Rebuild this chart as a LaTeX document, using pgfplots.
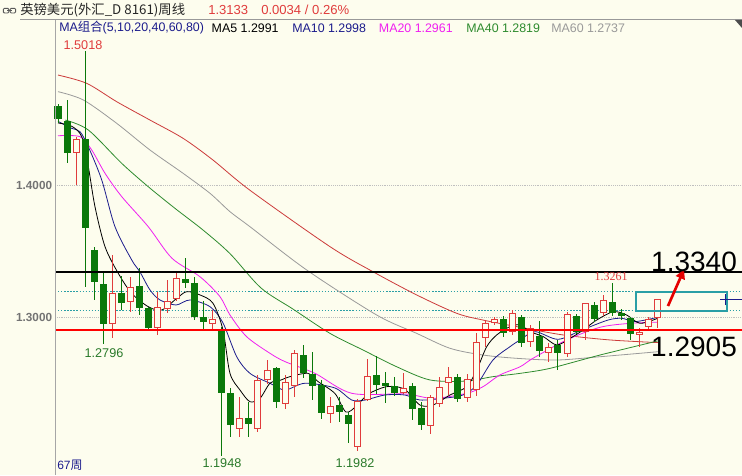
\documentclass[border=0pt]{standalone}
\usepackage{pgfplots}
\pgfplotsset{compat=1.18}
\usepackage{pgfplotstable}
\usepackage{fontspec}
\setmainfont{Liberation Sans}
\newfontfamily\cjk{Noto Sans CJK SC}
\newfontfamily\serifnum{Liberation Serif}
\usetikzlibrary{arrows.meta}

\definecolor{bg}{HTML}{FDFDEE}
\definecolor{cred}{HTML}{E03C3C}
\definecolor{cgreen}{HTML}{0A780A}
\definecolor{mablue}{HTML}{1C1C8C}
\definecolor{mamag}{HTML}{F020F0}
\definecolor{magreen}{HTML}{2E8B2E}
\definecolor{magrey}{HTML}{9A9A9A}
\definecolor{mared}{HTML}{CC3A3A}
\definecolor{teal2}{HTML}{2A9FA6}
\definecolor{lblgreen}{HTML}{2A7A2A}

% up (red, hollow) weekly candles: index open high low close
\pgfplotstableread{
i o h l c
2 1.4245 1.4366 1.4000 1.4346
6 1.2947 1.3470 1.2838 1.3184
8 1.3111 1.3300 1.3040 1.3225
11 1.2917 1.3192 1.2864 1.3076
12 1.3058 1.3280 1.3030 1.3123
13 1.3134 1.3343 1.3120 1.3293
17 1.2947 1.3053 1.2909 1.2982
20 1.2149 1.2396 1.2093 1.2232
22 1.2149 1.2561 1.2130 1.2523
23 1.2523 1.2674 1.2490 1.2598
25 1.2341 1.2560 1.2300 1.2510
26 1.2477 1.2750 1.2392 1.2730
30 1.2265 1.2392 1.2199 1.2326
33 1.2018 1.2380 1.1982 1.2361
34 1.2371 1.2679 1.2360 1.2553
38 1.2427 1.2578 1.2415 1.2460
41 1.2174 1.2409 1.2114 1.2396
42 1.2341 1.2548 1.2320 1.2472
43 1.2498 1.2619 1.2409 1.2548
45 1.2384 1.2568 1.2359 1.2527
46 1.2447 1.2876 1.2400 1.2813
47 1.2838 1.2977 1.2775 1.2952
48 1.2957 1.3000 1.2940 1.2982
50 1.2889 1.3053 1.2860 1.3033
52 1.2813 1.2937 1.2775 1.2914
54 1.2725 1.2806 1.2662 1.2770
56 1.2720 1.3038 1.2695 1.3023
58 1.2889 1.3109 1.2826 1.3104
60 1.3028 1.3167 1.3010 1.3129
64 1.2864 1.2914 1.2775 1.2889
65 1.2927 1.3000 1.2900 1.2985
66 1.2990 1.3140 1.2920 1.3133
}\upc

% down (green, filled) weekly candles
\pgfplotstableread{
i o h l c
0 1.4598 1.4610 1.4470 1.4498
1 1.4487 1.4644 1.4164 1.4245
3 1.4346 1.5018 1.3230 1.3672
4 1.3508 1.3528 1.3129 1.3267
5 1.3248 1.3331 1.2796 1.2947
7 1.3179 1.3310 1.3053 1.3104
9 1.3235 1.3369 1.3015 1.3066
10 1.3066 1.3075 1.2905 1.2914
14 1.3286 1.3445 1.3220 1.3255
15 1.3260 1.3305 1.2980 1.2998
16 1.2998 1.3123 1.2909 1.2965
18 1.2909 1.2925 1.1948 1.2427
19 1.2427 1.2459 1.2093 1.2182
21 1.2232 1.2358 1.2093 1.2189
24 1.2611 1.2625 1.2308 1.2353
27 1.2712 1.2788 1.2540 1.2578
28 1.2568 1.2737 1.2371 1.2477
29 1.2485 1.2523 1.2225 1.2275
31 1.2333 1.2396 1.2206 1.2280
32 1.2258 1.2283 1.2048 1.2189
35 1.2561 1.2705 1.2417 1.2485
36 1.2498 1.2586 1.2346 1.2477
37 1.2477 1.2543 1.2400 1.2427
39 1.2477 1.2498 1.2220 1.2301
40 1.2311 1.2353 1.2144 1.2182
44 1.2543 1.2568 1.2359 1.2376
49 1.2982 1.3008 1.2846 1.2881
51 1.3003 1.3015 1.2770 1.2806
53 1.2856 1.2972 1.2700 1.2745
55 1.2788 1.2826 1.2598 1.2725
57 1.3008 1.3020 1.2870 1.2889
59 1.3091 1.3116 1.2960 1.2982
61 1.3116 1.3261 1.3010 1.3033
62 1.3033 1.3061 1.2977 1.3008
63 1.2990 1.3003 1.2826 1.2871
}\downc

\pgfplotsset{
  bar/.style={draw=none, mark=none, forget plot,
    error bars/.cd, y dir=both, y explicit, error mark=none},
}

\begin{document}
\begin{tikzpicture}
\fill[bg] (0,0) rectangle (556.5pt,356.25pt);
\useasboundingbox (0,0) rectangle (556.5pt,356.25pt);
\begin{axis}[
  at={(41.25pt,0pt)}, anchor=south west,
  width=515.25pt, height=342pt, scale only axis,
  xmin=-0.33, xmax=75.247, ymin=1.1803, ymax=1.525758,
  axis line style={draw=none},
  xtick=\empty,
  ytick={1.3,1.4}, yticklabels={1.3000,1.4000},
  tick style={draw=none},
  yticklabel style={anchor=east, inner sep=0pt, xshift=-2pt,
    text=black!55, font=\fontsize{8.8}{10}\selectfont\bfseries},
  /pgf/number format/assume math mode=true,
  ymajorgrids, grid style={densely dotted, black!25, line width=0.5pt},
  clip=false,
]
% horizontal levels
\addplot[teal2, line width=0.9pt, dash pattern=on 1pt off 1.3pt] coordinates {(-0.33,1.3195) (75.247,1.3195)};
\addplot[teal2, line width=0.9pt, dash pattern=on 1pt off 1.3pt] coordinates {(-0.33,1.3050) (75.247,1.3050)};

% moving averages
\addplot[mared, line width=0.6pt, smooth] coordinates {(0,1.4833) (3.16,1.4770) (6.46,1.4631) (10.12,1.4492) (13.75,1.4354) (17.05,1.4189) (21.12,1.3960) (29.92,1.3533) (34.65,1.3343) (39.46,1.3167) (43.86,1.3028) (46.75,1.2977) (50.46,1.2927) (55.56,1.2864) (60.73,1.2826) (66,1.2806)};
\addplot[magrey, line width=0.6pt, smooth] coordinates {(0,1.4707) (2.79,1.4644) (6.46,1.4467) (10.12,1.4265) (13.75,1.4089) (16.72,1.3937) (18.92,1.3798) (21.12,1.3684) (27.36,1.3356) (35.06,1.3015) (39.46,1.2876) (43.12,1.2763) (46.75,1.2712) (50.46,1.2687) (54.86,1.2674) (59.62,1.2699) (66,1.2737)};
\addplot[magreen, line width=0.6pt, smooth] coordinates {(0.8,1.4492) (3.33,1.4417) (7.01,1.4164) (9.93,1.3987) (12.87,1.3823) (15.95,1.3659) (18.92,1.3480) (22.33,1.3220) (25.85,1.3060) (29.92,1.2876) (33.55,1.2750) (37.26,1.2623) (40.92,1.2523) (44.88,1.2515) (47.85,1.2548) (50.83,1.2573) (54.13,1.2611) (59.63,1.2712) (66,1.2819)};
\addplot[mamag, line width=0.6pt, smooth] coordinates {(0,1.4373) (2.42,1.4366) (3.71,1.4265) (5.17,1.4089) (7.01,1.3912) (9.93,1.3684) (12.54,1.3445) (15.62,1.3305) (17.82,1.3154) (18.92,1.3015) (20.75,1.2851) (23.32,1.2725) (24.97,1.2662) (28.27,1.2573) (32.31,1.2422) (38.17,1.2417) (41.25,1.2384) (44.96,1.2422) (46.75,1.2472) (48.62,1.2561) (50.83,1.2623) (52.25,1.2687) (55.96,1.2826) (59.63,1.2922) (62.93,1.2952) (66,1.2961)};
\addplot[mablue, line width=0.6pt, smooth] coordinates {(0,1.4482) (1.51,1.4429) (2.42,1.4404) (3.33,1.4290) (4.81,1.4038) (6.27,1.3684) (8.11,1.3432) (9.02,1.3341) (10.12,1.3205) (11.22,1.3129) (12.98,1.3091) (14.52,1.3129) (16.72,1.3078) (18.15,1.2955) (19.66,1.2699) (21.12,1.2573) (23.32,1.2498) (24.97,1.2447) (27.17,1.2498) (30.47,1.2462) (32.31,1.2371) (33.77,1.2371) (35.97,1.2409) (38.17,1.2409) (39.82,1.2371) (42.35,1.2384) (44.55,1.2409) (46.06,1.2485) (47.85,1.2674) (49.72,1.2775) (50.83,1.2826) (52.48,1.2889) (55.01,1.2831) (57.65,1.2902) (60.51,1.2977) (62.05,1.2990) (63.48,1.2965) (66,1.2998)};
\addplot[black, line width=0.6pt, smooth] coordinates {(0,1.4470) (1.51,1.4445) (2.61,1.4366) (3.33,1.4141) (4.07,1.3835) (5.17,1.3533) (6.63,1.3331) (8.11,1.3179) (9.93,1.3078) (11.41,1.3053) (13.06,1.3141) (14.16,1.3192) (15.62,1.3167) (17.05,1.3104) (18.15,1.2902) (18.92,1.2573) (20.02,1.2447) (21.12,1.2358) (22.22,1.2384) (23.32,1.2498) (24.42,1.2520) (25.52,1.2548) (27.5,1.2573) (28.6,1.2511) (30.47,1.2420) (31.68,1.2280) (32.89,1.2330) (34.1,1.2415) (35.97,1.2470) (37.4,1.2470) (38.36,1.2440) (39.82,1.2333) (41.25,1.2333) (43.12,1.2409) (44.96,1.2472) (46.06,1.2598) (47.16,1.2775) (48.26,1.2864) (49.72,1.2927) (50.83,1.2940) (51.93,1.2889) (53.39,1.2851) (54.86,1.2788) (56.33,1.2838) (57.79,1.2902) (59.26,1.2977) (61.09,1.3040) (62.56,1.3015) (64.03,1.2952) (66,1.2991)};

% wicks
\addplot[bar, error bar style={draw=cred, line width=0.75pt}]
  table[x=i, y expr=(\thisrow{h}+\thisrow{l})/2, y error expr=(\thisrow{h}-\thisrow{l})/2] {\upc};
\addplot[bar, error bar style={draw=cgreen, line width=0.75pt}]
  table[x=i, y expr=(\thisrow{h}+\thisrow{l})/2, y error expr=(\thisrow{h}-\thisrow{l})/2] {\downc};
% bodies
\addplot[bar, error bar style={draw=cred, line width=5.25pt}]
  table[x=i, y expr=(\thisrow{o}+\thisrow{c})/2, y error expr=(\thisrow{c}-\thisrow{o})/2] {\upc};
\addplot[bar, error bar style={draw=bg, line width=3.75pt}]
  table[x=i, y expr=(\thisrow{o}+\thisrow{c})/2, y error expr=(\thisrow{c}-\thisrow{o})/2-0.00076] {\upc};
\addplot[bar, error bar style={draw=cgreen, line width=5.25pt}]
  table[x=i, y expr=(\thisrow{o}+\thisrow{c})/2, y error expr=(\thisrow{o}-\thisrow{c})/2] {\downc};

% key levels
\addplot[black, line width=1.5pt] coordinates {(-0.33,1.3340) (75.247,1.3340)};
\addplot[red, line width=1.5pt] coordinates {(-0.33,1.2905) (75.247,1.2905)};
\draw[teal2, line width=1.6pt] (axis cs:63.59,1.3048) rectangle (axis cs:73.6,1.3187);
\addplot[mablue, line width=0.6pt] coordinates {(72.83,1.3133) (75.247,1.3133)};
\addplot[mablue, line width=0.6pt] coordinates {(73.38,1.3090) (73.38,1.3176)};
\draw[red!90!black, line width=2pt, -{Triangle[length=7pt,width=7pt]}] (axis cs:67.1,1.3083) -- (axis cs:68.87,1.3360);

% labels
\node[text=cred, font=\fontsize{9.5}{10}\selectfont] at (axis cs:2.75,1.5061) {1.5018};
\node[text=lblgreen, font=\fontsize{9.5}{10}\selectfont] at (axis cs:5.06,1.2727) {1.2796};
\node[text=lblgreen, font=\fontsize{9.5}{10}\selectfont] at (axis cs:18.04,1.1894) {1.1948};
\node[text=lblgreen, font=\fontsize{9.5}{10}\selectfont] at (axis cs:32.67,1.1894) {1.1982};
\node[text=cred, inner sep=0pt, font=\serifnum\fontsize{9}{10}\selectfont] at (axis cs:60.84,1.3305) {1.3261};
\node[anchor=base, inner sep=0pt, font=\fontsize{21}{22}\selectfont] at (axis cs:69.97,1.3342) {1.3340};
\node[anchor=base, inner sep=0pt, font=\fontsize{21}{22}\selectfont] at (axis cs:69.97,1.2699) {1.2905};
\end{axis}

% frame lines
\draw[black!40, line width=0.6pt] (15pt,341.6pt) -- (556.5pt,341.6pt);
\draw[black!35, line width=0.6pt] (41.25pt,0pt) -- (41.25pt,341.6pt);
\fill[black!70] (551.25pt,341.25pt) -- (556.5pt,341.25pt) -- (556.5pt,335.25pt) -- cycle;
% link icon
\draw[black!65, line width=0.7pt, rounded corners=0.8pt] (2.5pt,346.5pt) rectangle (6.6pt,350pt);
\draw[black!65, line width=0.7pt, rounded corners=0.8pt] (7.6pt,346.5pt) rectangle (11.7pt,350pt);
\draw[black!65, line width=0.7pt] (5.5pt,348.25pt) -- (8.7pt,348.25pt);

% header texts
\node[anchor=west, inner sep=0pt, text=black!85, font=\cjk\fontsize{10}{11}\selectfont] at (15pt,348.6pt) {英镑美元(外汇\_D 8161)周线};
\node[anchor=west, inner sep=0pt, text=cred, font=\fontsize{9.8}{11}\selectfont] at (156pt,348.6pt) {1.3133};
\node[anchor=west, inner sep=0pt, text=cred, font=\fontsize{9.8}{11}\selectfont] at (195.75pt,348.6pt) {0.0034 / 0.26\%};
\node[anchor=west, inner sep=0pt, text=mablue, font=\fontsize{9.3}{11}\selectfont] at (44.25pt,335.25pt) {MA{\cjk 组合}(5,10,20,40,60,80)};
\node[anchor=west, inner sep=0pt, text=black, font=\fontsize{9.3}{11}\selectfont] at (158.6pt,335.25pt) {MA5 1.2991};
\node[anchor=west, inner sep=0pt, text=mablue, font=\fontsize{9.3}{11}\selectfont] at (219pt,335.25pt) {MA10 1.2998};
\node[anchor=west, inner sep=0pt, text=mamag, font=\fontsize{9.3}{11}\selectfont] at (284pt,335.25pt) {MA20 1.2961};
\node[anchor=west, inner sep=0pt, text=magreen, font=\fontsize{9.3}{11}\selectfont] at (349.5pt,335.25pt) {MA40 1.2819};
\node[anchor=west, inner sep=0pt, text=magrey, font=\fontsize{9.3}{11}\selectfont] at (413.25pt,335.25pt) {MA60 1.2737};
\node[anchor=west, inner sep=0pt, text=mablue, font=\fontsize{9}{10}\selectfont] at (42.75pt,7.5pt) {67{\cjk 周}};
\end{tikzpicture}
\end{document}
